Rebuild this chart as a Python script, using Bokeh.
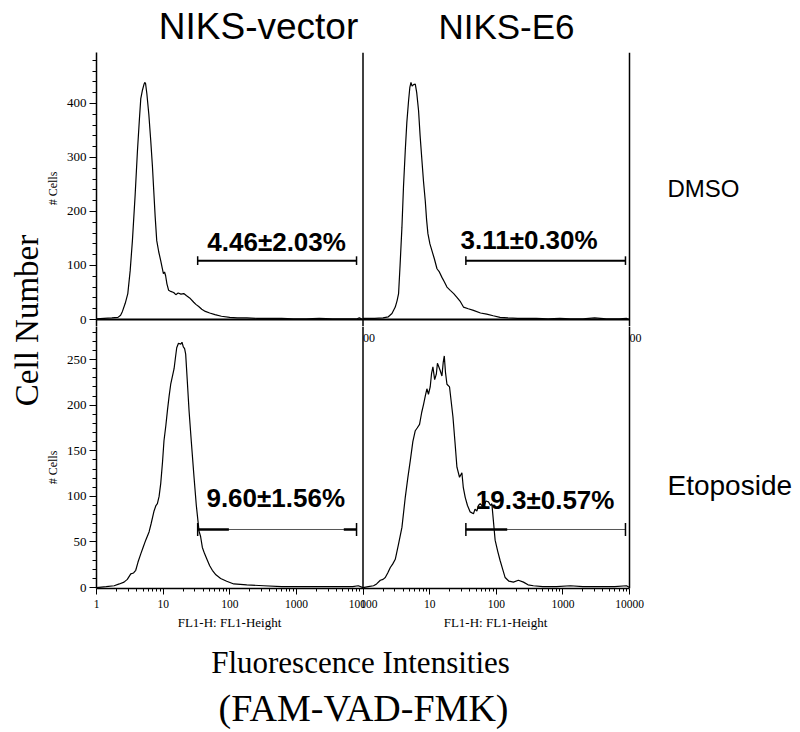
import math
from bokeh.plotting import figure
from bokeh.models import Range1d, LogScale, Span, Label, FixedTicker, CustomJSTickFormatter, AllLabels
from bokeh.layouts import row, column
from bokeh.embed import file_html
from bokeh.resources import INLINE

# ---------------- data ----------------
col_titles = ["NIKS-vector", "NIKS-E6"]
row_titles = ["DMSO", "Etoposide"]

# NIKS-vector / DMSO (top-left)
x_tl = [1.0, 1.3, 1.7, 2.1, 2.3, 2.45, 2.7, 2.95, 3.2, 3.46, 3.8, 4.12, 4.4, 4.62, 4.9, 5.15, 5.3, 5.45,
        5.7, 6.1, 6.52, 6.9, 7.23, 7.6, 8.02, 8.6, 9.2, 9.7, 10.1, 10.5, 10.9, 11.4, 12.1, 13.0, 14.4,
        15.5, 16.8, 18.5, 20.4, 22.5, 25, 28.8, 31, 34.2, 38, 43, 50, 60, 75, 100, 130, 180, 260, 400,
        600, 900, 1400, 2200, 3500, 5500, 8000, 8800, 10000]
y_tl = [1, 2, 3, 4, 8, 15, 30, 48, 90, 146, 230, 313, 370, 409, 425, 435, 439, 437,
        418, 380, 331, 285, 239, 190, 146, 125, 109, 95, 85, 88, 81, 66, 54, 52, 50,
        46, 49, 47, 48, 44, 40, 32, 28, 24, 19, 15, 12, 9, 6, 4, 3, 3, 2, 2,
        2, 1, 1, 2, 1, 1, 1, 3, 0]

# NIKS-E6 / DMSO (top-right)
x_tr = [1.0, 1.5, 2.0, 2.4, 2.72, 3.05, 3.25, 3.42, 3.6, 3.84, 4.05, 4.31, 4.55, 4.83, 5.05, 5.25, 5.45,
        5.74, 6.09, 6.4, 6.82, 7.2, 7.67, 8.1, 8.6, 9.0, 9.43, 10.1, 10.8, 11.8, 12.9, 14.0, 15.3, 16.6,
        18.2, 20.4, 23, 25.7, 29, 32.2, 38, 45.5, 58, 72, 90, 114, 150, 210, 288, 400, 600, 900, 1300,
        2000, 3000, 4500, 7000, 9000, 10000]
y_tr = [2, 2, 3, 5, 11, 23, 35, 48, 100, 171, 245, 313, 365, 405, 430, 439, 432,
        435, 436, 420, 387, 340, 294, 255, 220, 185, 159, 140, 128, 112, 94, 88, 78, 70,
        60, 54, 48, 41, 33, 23, 20, 17, 12, 10, 7, 4, 3, 2, 2, 2, 1, 2, 1,
        1, 3, 1, 1, 2, 0]

# NIKS-vector / Etoposide (bottom-left)
x_bl = [1.0, 1.4, 1.84, 2.2, 2.59, 2.9, 3.27, 3.6, 3.88, 4.2, 4.62, 5.0, 5.48, 6.15, 6.6, 7.31, 7.8, 8.2,
        8.7, 9.2, 9.8, 10.3, 11.0, 11.6, 12.3, 13.0, 14.6, 15.3, 16.0, 17.0, 18.4, 19.2, 20.1, 21.0, 21.8,
        23.0, 24.5, 26.5, 29.1, 31.5, 34.6, 36.5, 38.8, 42, 46.1, 50, 54.8, 62, 73, 90, 115, 180, 325,
        600, 1000, 2000, 4000, 7000, 8500, 10000]
y_bl = [0, 1, 2, 4, 6, 9, 15, 16, 19, 28, 37, 44, 52, 61, 70, 84, 90, 92,
        100, 114, 138, 161, 178, 194, 210, 223, 240, 252, 263, 268, 267, 269, 264, 262, 256,
        228, 194, 160, 121, 90, 62, 56, 44, 37, 30, 24, 19, 14, 10, 7, 4, 3, 2,
        1, 1, 1, 1, 1, 2, 0]

# NIKS-E6 / Etoposide (bottom-right)
x_br = [1.0, 1.2, 1.44, 1.6, 1.82, 2.0, 2.16, 2.35, 2.57, 2.8, 3.05, 3.42, 3.84, 4.31, 4.7, 5.12, 5.6,
        6.09, 6.5, 7.06, 7.6, 8.11, 8.6, 9.1, 9.6, 10.2, 10.7, 11.2, 11.9, 12.6, 13.1, 13.6, 14.4, 15.3,
        16.0, 16.6, 17.3, 18.2, 19.9, 22.4, 24, 25.7, 28.1, 30.5, 32, 34.2, 37, 40.6, 45.5, 48, 51.2,
        54, 57.4, 64.3, 70, 76.4, 82, 85.9, 96.2, 105, 114, 125, 136, 155, 181, 215, 256, 300, 361,
        500, 800, 1300, 2000, 3500, 6000, 9000, 10000]
y_br = [0, 1, 2, 4, 8, 9, 11, 16, 22, 26, 31, 48, 66, 99, 120, 139, 160,
        172, 175, 179, 192, 201, 210, 218, 212, 220, 235, 242, 228, 234, 246, 243, 238, 232,
        247, 254, 236, 223, 220, 187, 160, 132, 121, 126, 110, 99, 90, 83, 81, 86, 84,
        90, 92, 88, 95, 94, 90, 92, 52, 40, 30, 20, 11, 7, 6, 8, 6, 3, 2,
        1, 1, 2, 1, 1, 1, 2, 0]

# marker gates (M1) and their percentages: TL, TR, BL, BR
gate_lo = [33, 35, 33, 35]
gate_hi = [8000, 8700, 8000, 8700]
gate_level = [109, 109, 63.7, 63.7]
gate_text = ["4.46\u00b12.03%", "3.11\u00b10.30%", "9.60\u00b11.56%", "19.3\u00b10.57%"]
# overlapping second-marker pieces drawn thicker in the Etoposide panels
bl_thick = [(33, 97), (5150, 8000)]
br_thick = [(35, 146)]

# tick values (10000.5 carries the right panel's "1" that overlaps the left panel's "10000")
x_major = [1, 10, 100, 1000, 10000, 10000.5, 1e5, 1e6, 1e7, 1e8]
x_minor = [m * 10 ** k for k in range(8) for m in range(2, 10)]
top_y_major = [0, 100, 200, 300, 400]
top_y_minor = list(range(0, 481, 20))
bot_y_major = [0, 50, 100, 150, 200, 250]
bot_y_minor = list(range(0, 281, 10))

SERIF = "Liberation Serif"
SANS = "Liberation Sans"
EXT = 10 ** (18 / 66.625)   # extra frame room right of the panels


# ---------------- helpers ----------------
def text_fig(w, h, xr, yr):
    f = figure(width=w, height=h, x_range=Range1d(*xr), y_range=Range1d(*yr), min_border=0,
               toolbar_location=None, output_backend="svg", x_axis_location=None,
               y_axis_location=None, outline_line_color=None)
    f.grid.visible = False
    return f


def lab(fig, x, y, text, size, font=SANS, align="center", angle=0.0, style="normal", **kw):
    fig.add_layout(Label(x=x, y=y, text=text, text_align=align, text_baseline="middle",
                         text_font=font, text_font_size=size, text_font_style=style,
                         text_color="black", angle=angle, **kw))


def panel_fig(yr, frame_h, bottom_border, show_x):
    kw = dict(x_axis_type="log", x_range=Range1d(1, 1e8 * EXT), y_range=Range1d(*yr),
              frame_width=551, frame_height=frame_h,
              min_border_left=36, min_border_right=0,
              min_border_top=0, min_border_bottom=bottom_border,
              toolbar_location=None, output_backend="svg", outline_line_color=None)
    if not show_x:
        kw["x_axis_location"] = None
    f = figure(**kw)
    f.extra_x_ranges = {"right": Range1d(1e-4, 1e4 * EXT)}
    f.extra_x_scales = {"right": LogScale()}
    f.grid.visible = False
    ya = f.yaxis[0]
    ya.axis_line_width = 1.5
    ya.major_tick_out = 7
    ya.major_tick_in = 0
    ya.minor_tick_out = 4
    ya.minor_tick_in = 0
    ya.major_tick_line_width = 1.2
    ya.major_label_standoff = 3
    ya.major_label_text_font = SERIF
    ya.major_label_text_font_size = "13px"
    ya.major_label_text_color = "black"
    f.add_layout(Span(location=1e4, dimension="height", line_color="black", line_width=1.5))
    f.add_layout(Span(location=1e8, dimension="height", line_color="black", line_width=1.5))
    return f


# ---------------- panels ----------------
top = panel_fig((-12.96, 494.4), 274, 0, False)
top.yaxis[0].ticker = FixedTicker(ticks=top_y_major, minor_ticks=top_y_minor)
top.segment(x0=[1], y0=[0], x1=[1e8], y1=[0], line_color="black", line_width=2.2)

bot = panel_fig((-1, 286.3), 262, 25, True)
bot.yaxis[0].ticker = FixedTicker(ticks=bot_y_major, minor_ticks=bot_y_minor)
xa = bot.xaxis[0]
xa.ticker = FixedTicker(ticks=x_major, minor_ticks=x_minor)
xa.formatter = CustomJSTickFormatter(code="""
if (tick > 9999 && tick < 10000.2) { return "10000"; }
if (tick > 10000.2 && tick < 10001) { return "1"; }
let v = tick > 10001 ? tick / 10000 : tick;
return String(Math.round(v));
""")
xa.major_label_policy = AllLabels()
xa.bounds = (1, 1e8)
xa.axis_line_width = 1.5
xa.major_tick_out = 6
xa.major_tick_in = 0
xa.minor_tick_out = 3
xa.minor_tick_in = 0
xa.major_label_standoff = 5
xa.major_label_text_font = SERIF
xa.major_label_text_font_size = "11.5px"
xa.major_label_text_color = "black"


def draw_panel(fig, xs, ys, rname, i, cap, thick_parts, tx, ty):
    kw = {} if rname is None else {"x_range_name": rname}
    fig.line(xs, ys, line_color="black", line_width=1.2, **kw)
    lo, hi, lvl = gate_lo[i], gate_hi[i], gate_level[i]
    if thick_parts is None:
        fig.segment([lo], [lvl], [hi], [lvl], line_color="black", line_width=2, **kw)
    else:
        fig.segment([lo], [lvl], [hi], [lvl], line_color="#555555", line_width=1, **kw)
        fig.segment([a for a, b in thick_parts], [lvl] * len(thick_parts),
                    [b for a, b in thick_parts], [lvl] * len(thick_parts),
                    line_color="black", line_width=2.6, **kw)
    fig.segment([lo, hi], [lvl - cap] * 2, [lo, hi], [lvl + cap] * 2,
                line_color="black", line_width=1.5, **kw)
    lab(fig, tx, ty, gate_text[i], "26px", style="bold", **kw)


draw_panel(top, x_tl, y_tl, None, 0, 8, None, 505, 144.4)
draw_panel(top, x_tr, y_tr, "right", 1, 8, None, 311, 146.3)
draw_panel(bot, x_bl, y_bl, None, 2, 7, bl_thick, 490, 97.7)
draw_panel(bot, x_br, y_br, "right", 3, 7, br_thick, 542, 95.5)

# remnants of the hidden top-row tick labels
for xx in (1, 1e4):
    lab(bot, xx, 274.2, "00", "12px", font=SERIF, align="left", x_range_name="right")

# ---------------- surrounding texts (page-pixel coordinates) ----------------
header = text_fig(797, 52, (0, 797), (52, 0))
lab(header, 258, 26, col_titles[0], "37px")
lab(header, 506, 26, col_titles[1], "35px")

left = text_fig(60, 679, (0, 60), (731, 52))
lab(left, 26, 320, "Cell Number", "33px", font=SERIF, angle=math.pi / 2)
lab(left, 52, 188, "# Cells", "12px", font=SERIF, angle=math.pi / 2)
lab(left, 52, 467, "# Cells", "12px", font=SERIF, angle=math.pi / 2)

right = text_fig(150, 561, (647, 797), (613, 52))
lab(right, 667, 188, row_titles[0], "24px", align="left")
lab(right, 667, 485, row_titles[1], "28px", align="left")

footer = text_fig(737, 118, (60, 797), (731, 613))
lab(footer, 229, 622, "FL1-H: FL1-Height", "13px", font=SERIF)
lab(footer, 495, 622, "FL1-H: FL1-Height", "13px", font=SERIF)
lab(footer, 360, 662, "Fluorescence Intensities", "31px", font=SERIF)
lab(footer, 363, 707, "(FAM-VAD-FMK)", "38px", font=SERIF)

layout = column(header, row(left, column(row(column(top, bot), right), footer)))
open("out.html", "w").write(file_html(layout, INLINE))
